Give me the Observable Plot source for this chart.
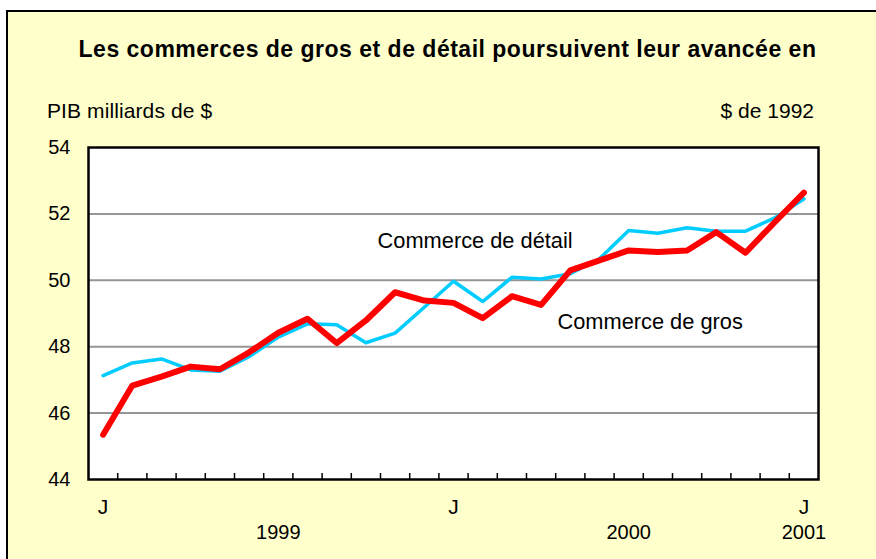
<!DOCTYPE html>
<html>
<head>
<meta charset="utf-8">
<script src="https://cdn.jsdelivr.net/npm/d3@7"></script>
<script src="https://cdn.jsdelivr.net/npm/@observablehq/plot@0.6"></script>
<style>
  html, body { margin: 0; padding: 0; background: #ffffff; width: 876px; height: 559px; overflow: hidden; }
  body { position: relative; font-family: "Liberation Sans", Arial, sans-serif; }
  #panel { position: absolute; left: 6px; top: 10px; width: 900px; height: 600px; background: #FFFFCC; border-left: 2px solid #000; border-top: 2px solid #000; }
  #title { position: absolute; left: 0; top: 38px; width: 895px; text-align: center; font-weight: bold; font-size: 23px; line-height: 23px; letter-spacing: 0.5px; color: #000; white-space: nowrap; }
  #unitL { position: absolute; left: 47px; top: 100px; font-size: 21px; line-height: 21px; letter-spacing: 0.1px; color: #000; white-space: nowrap; }
  #unitR { position: absolute; right: 62px; top: 100px; font-size: 21px; line-height: 21px; color: #000; white-space: nowrap; }
  #chart { position: absolute; left: 0; top: 130px; }
</style>
</head>
<body>
<div id="panel"></div>
<div id="title">Les commerces de gros et de détail poursuivent leur avancée en</div>
<div id="unitL">PIB milliards de $</div>
<div id="unitR">$ de 1992</div>
<div id="chart"></div>
<script>
// Months from January 1999 to January 2001
const months = ["1999-01","1999-02","1999-03","1999-04","1999-05","1999-06","1999-07","1999-08","1999-09","1999-10","1999-11","1999-12",
                "2000-01","2000-02","2000-03","2000-04","2000-05","2000-06","2000-07","2000-08","2000-09","2000-10","2000-11","2000-12",
                "2001-01"];
// Commerce de détail (retail), billions of 1992 $
const retail = [47.13, 47.51, 47.63, 47.30, 47.26, 47.70, 48.29, 48.69, 48.66, 48.12, 48.41, 49.19,
                49.97, 49.36, 50.09, 50.04, 50.20, 50.65, 51.50, 51.42, 51.58, 51.48, 51.48, 51.88,
                52.45];
// Commerce de gros (wholesale), billions of 1992 $
const wholesale = [45.35, 46.83, 47.10, 47.40, 47.32, 47.83, 48.42, 48.84, 48.11, 48.79, 49.64, 49.39,
                   49.32, 48.86, 49.52, 49.26, 50.30, 50.60, 50.90, 50.85, 50.90, 51.45, 50.83, 51.75,
                   52.64];
// Tick labels
const yTicks = [44, 46, 48, 50, 52, 54];
const gridTicks = [46, 48, 50, 52];
const monthTickIdx = [0, 12, 24];
const monthTickLabels = ["J", "J", "J"];
const yearTickIdx = [6, 18, 24];
const yearTickLabels = ["1999", "2000", "2001"];
// Series annotations (month index, value)
const seriesLabels = [
  {text: "Commerce de détail", idx: 9.40, value: 51.17},
  {text: "Commerce de gros", idx: 15.56, value: 48.73}
];

const retailData = months.map((m, i) => ({i, v: retail[i]}));
const wholesaleData = months.map((m, i) => ({i, v: wholesale[i]}));
const boundaries = months.slice(1).map((m, i) => i + 0.5);

const W = 876, H = 429, mT = 17, mB = 80;
const plotH = H - mT - mB;

const chart = Plot.plot({
  width: W,
  height: H,
  marginLeft: 88,
  marginRight: 58,
  marginTop: mT,
  marginBottom: mB,
  style: {fontFamily: "'Liberation Sans', Arial, sans-serif", fontSize: "21px", background: "transparent", color: "#000", overflow: "visible"},
  x: {type: "linear", domain: [-0.5, months.length - 0.5]},
  y: {domain: [44, 54]},
  marks: [
    Plot.frame({fill: "white", stroke: null}),
    Plot.gridY(gridTicks, {stroke: "#969696", strokeOpacity: 1, strokeWidth: 2}),
    Plot.tickX(boundaries, {x: d => d, insetTop: plotH - 6, stroke: "#000", strokeWidth: 1.5}),
    Plot.line(retailData, {x: "i", y: "v", stroke: "#00CCFF", strokeWidth: 3.5, strokeLinejoin: "round"}),
    Plot.line(wholesaleData, {x: "i", y: "v", stroke: "#FF0000", strokeWidth: 6, strokeLinejoin: "round"}),
    Plot.text(seriesLabels, {x: "idx", y: "value", text: "text", textAnchor: "start", fill: "#000", fontSize: 21.8}),
    Plot.frame({stroke: "#000", strokeWidth: 2.5}),
    Plot.axisY(yTicks, {tickSize: 0, tickPadding: 18, fontSize: 20, label: null}),
    Plot.axisX(monthTickIdx, {tickSize: 0, tickPadding: 20, fontSize: 21, label: null,
      tickFormat: d => monthTickLabels[monthTickIdx.indexOf(d)]}),
    Plot.axisX(yearTickIdx, {tickSize: 0, tickPadding: 45, fontSize: 20, label: null,
      tickFormat: d => yearTickLabels[yearTickIdx.indexOf(d)]})
  ]
});
document.getElementById("chart").appendChild(chart);
</script>
</body>
</html>
